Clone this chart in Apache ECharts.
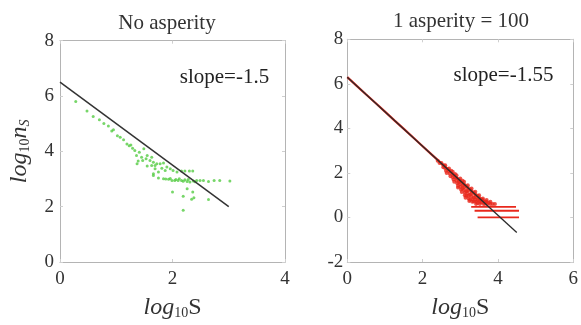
<!DOCTYPE html>
<html><head><meta charset="utf-8">
<script src="https://cdn.jsdelivr.net/npm/echarts@6/dist/echarts.min.js"></script>
<style>html,body{margin:0;padding:0;background:#fff}#c{width:581px;height:325px}</style>
</head><body><div id="c"></div>
<script>
// ---- data ----
const leftTitle = 'No asperity';
const rightTitle = '1 asperity = 100';
const leftSlopeText = 'slope=-1.5';
const rightSlopeText = 'slope=-1.55';
const leftXTicks = [0, 2, 4];
const leftYTicks = [0, 2, 4, 6, 8];
const rightXTicks = [0, 2, 4, 6];
const rightYTicks = [-2, 0, 2, 4, 6, 8];
const leftFit = [[0, 6.5], [3, 2.0]];
const rightFit = [[0, 6.3], [4.5, -0.675]];
const greenPts = [
 [0.28,5.80],[0.48,5.46],[0.59,5.26],[0.70,5.14],[0.78,5.01],[0.86,4.92],[0.92,4.74],[0.95,4.78],
 [1.02,4.56],[1.07,4.51],[1.13,4.42],[1.19,4.27],[1.23,4.20],[1.26,4.23],[1.29,4.11],[1.33,4.03],
 [1.36,3.85],[1.41,3.97],[1.45,3.79],[1.49,4.09],[1.53,3.73],[1.37,3.55],[1.39,3.65],[1.55,3.85],
 [1.60,3.67],[1.63,3.49],[1.69,3.37],[1.72,3.55],[1.66,3.19],[1.75,3.25],[1.55,3.47],[1.47,3.67],
 [1.63,3.79],[1.66,3.61],[1.69,3.49],[1.78,3.55],[1.84,3.58],[1.81,3.39],[1.87,3.31],[1.90,3.43],
 [1.96,3.37],[2.01,3.31],[2.08,3.25],[2.16,3.29],[2.22,3.29],[2.30,3.29],[2.36,3.29],
 [1.66,3.13],[1.75,3.04],[1.84,3.01],[1.93,2.99],[1.99,2.95],[2.04,2.95],[2.10,2.95],[2.16,2.95],
 [2.22,2.97],[2.26,2.91],[2.31,2.89],[2.37,2.93],[2.43,2.95],[2.49,2.95],[2.55,2.95],[2.64,2.91],
 [2.74,2.95],[2.84,2.95],[3.02,2.93],[1.88,3.00],[1.96,3.02],[2.06,2.98],[2.12,3.01],[2.19,2.92],
 [2.28,2.98],[2.40,2.90],[2.00,2.53],[2.19,2.38],[2.26,2.65],[2.36,2.53],[2.38,2.32],[2.34,2.27],
 [2.64,2.26],[2.19,1.87]
];
// red points lying on the fit (small S), drawn as a continuous trace
const redLinePts = [
 [0.00,6.30],[0.25,5.91],[0.50,5.52],[0.75,5.14],[1.00,4.75],[1.25,4.36],[1.50,3.98],[1.75,3.59],
 [2.00,3.20],[2.25,2.81],[2.50,2.43],[2.70,2.12],[2.90,1.80],[3.10,1.50],[3.30,1.18],[3.50,0.88],[3.70,0.62]
];
// scattered red points (large S)
const redPts = [
 [2.40,2.55],[2.45,2.44],[2.50,2.45],[2.55,2.35],[2.55,2.25],[2.58,2.30],
 [2.60,2.35],[2.60,2.22],[2.62,2.10],[2.64,2.00],[2.66,2.18],
 [2.70,2.20],[2.70,2.08],[2.72,1.96],[2.74,1.85],[2.76,2.10],
 [2.80,2.05],[2.80,1.92],[2.80,1.80],[2.82,1.70],[2.84,1.60],[2.86,1.95],[2.86,1.80],
 [2.90,1.90],[2.90,1.78],[2.90,1.66],[2.92,1.54],[2.94,1.42],[2.94,1.35],[2.96,1.70],[2.96,1.58],
 [3.00,1.75],[3.00,1.62],[3.00,1.50],[3.00,1.38],[3.02,1.26],[3.04,1.14],[3.06,1.65],[3.06,1.45],[3.06,1.30],
 [3.10,1.60],[3.10,1.48],[3.10,1.36],[3.10,1.24],[3.12,1.12],[3.12,1.00],[3.14,0.88],[3.16,1.40],[3.16,1.18],[3.16,0.98],
 [3.20,1.45],[3.20,1.33],[3.20,1.21],[3.20,1.09],[3.22,0.97],[3.22,0.85],[3.24,0.74],[3.26,1.25],[3.26,1.02],[3.26,0.80],
 [3.30,1.30],[3.30,1.18],[3.30,1.06],[3.30,0.94],[3.32,0.82],[3.32,0.70],[3.36,1.12],[3.36,0.90],[3.36,0.72],
 [3.40,1.15],[3.40,1.03],[3.40,0.91],[3.40,0.79],[3.42,0.70],[3.42,0.60],[3.46,0.98],[3.46,0.80],[3.46,0.65],
 [3.50,1.00],[3.50,0.88],[3.50,0.78],[3.52,0.70],[3.52,0.60],[3.56,0.82],[3.56,0.68],
 [3.60,0.85],[3.60,0.78],[3.62,0.70],[3.62,0.60],[3.66,0.72],[3.66,0.62],
 [3.70,0.78],[3.70,0.70],[3.72,0.60],[3.76,0.66],[3.80,0.70],[3.80,0.60],[3.86,0.60],[3.92,0.60]
];
const redBarY = [0.477, 0.301, 0.0];
const redBarStart = [3.29, 3.38, 3.46];
const redBarEnd = [4.48, 4.56, 4.56];

// ---- chart ----
const SERIF = "'Liberation Serif','DejaVu Serif',serif";
const AX = '#b4b4b4';
const TICK = '#cfcfcf';
const RED = '#e8281c';
const labelStyle = {color:'#333', fontFamily:SERIF, fontSize:19};
const xName = {
  name:'{i|log}{s|10}{u|S}', nameLocation:'middle', nameGap:33,
  nameTextStyle:{rich:{
    i:{fontFamily:SERIF,fontStyle:'italic',fontSize:24,color:'#333'},
    s:{fontFamily:SERIF,fontSize:14,color:'#333',padding:[11,0,0,0]},
    u:{fontFamily:SERIF,fontSize:24,color:'#333'}}}
};
function xAx(grid, min, max, ticks, main){
  const o = {type:'value', gridIndex:grid, min, max, interval: ticks[1]-ticks[0],
    position: main ? 'bottom' : 'top',
    axisLine:{show:true, onZero:false, lineStyle:{color:AX,width:1}},
    axisTick:{show:true, inside:true, length:3, lineStyle:{color:TICK}},
    splitLine:{show:false},
    axisLabel:{show:main, margin:8, ...labelStyle, formatter:v=>String(v)}};
  if (main) Object.assign(o, xName);
  return o;
}
function yAx(grid, min, max, ticks, main, name){
  const o = {type:'value', gridIndex:grid, min, max, interval: ticks[1]-ticks[0],
    position: main ? 'left' : 'right',
    axisLine:{show:true, onZero:false, lineStyle:{color:AX,width:1}},
    axisTick:{show:true, inside:true, length:3, lineStyle:{color:TICK}},
    splitLine:{show:false},
    axisLabel:{show:main, margin: grid===0 ? 6 : 4, ...labelStyle, formatter:v=>String(v)}};
  if (name) Object.assign(o, {name, nameLocation:'middle', nameGap:28, nameRotate:90,
    nameTextStyle:{rich:{
      i:{fontFamily:SERIF,fontStyle:'italic',fontSize:24,color:'#333'},
      s:{fontFamily:SERIF,fontSize:14,color:'#333',padding:[11,0,0,0]},
      t:{fontFamily:SERIF,fontStyle:'italic',fontSize:14,color:'#333',padding:[11,0,0,0]}}}});
  return o;
}
const chart = echarts.init(document.getElementById('c'), null, {renderer:'canvas'});
chart.setOption({
  animation:false,
  backgroundColor:'#fff',
  grid:[
    {left:60, top:40.7, right:296, bottom:61},
    {left:347.3, top:39.3, right:6.7, bottom:60.3}
  ],
  xAxis:[
    xAx(0, 0, 4, leftXTicks, true), xAx(0, 0, 4, leftXTicks, false),
    xAx(1, 0, 6, rightXTicks, true), xAx(1, 0, 6, rightXTicks, false)
  ],
  yAxis:[
    yAx(0, 0, 8, leftYTicks, true, '{i|log}{s|10}{i|n}{t|S}'), yAx(0, 0, 8, leftYTicks, false),
    yAx(1, -2, 8, rightYTicks, true), yAx(1, -2, 8, rightYTicks, false)
  ],
  graphic:[
    {type:'text', x:167, y:23, style:{text:leftTitle, font:'21px '+SERIF, fill:'#333', align:'center', verticalAlign:'middle'}},
    {type:'text', x:461, y:21, style:{text:rightTitle, font:'21px '+SERIF, fill:'#333', align:'center', verticalAlign:'middle'}},
    {type:'text', x:224.5, y:77, style:{text:leftSlopeText, font:'21px '+SERIF, fill:'#222', align:'center', verticalAlign:'middle'}},
    {type:'text', x:503.5, y:75, style:{text:rightSlopeText, font:'21px '+SERIF, fill:'#222', align:'center', verticalAlign:'middle'}}
  ],
  series:[
    {type:'scatter', xAxisIndex:0, yAxisIndex:0, data:greenPts, symbol:'circle', symbolSize:3,
      itemStyle:{color:'#55cc44'}, silent:true},
    {type:'line', xAxisIndex:0, yAxisIndex:0, data:leftFit, symbol:'none',
      lineStyle:{color:'#333', width:1.5}, silent:true},
    ...redBarY.map((y,i)=>({type:'line', xAxisIndex:2, yAxisIndex:2,
      data:[[redBarStart[i], y],[redBarEnd[i], y]], symbol:'none',
      lineStyle:{color:RED, width:1.8}, silent:true})),
    {type:'line', xAxisIndex:2, yAxisIndex:2, data:redLinePts, symbol:'none',
      lineStyle:{color:RED, width:2.2}, silent:true},
    {type:'scatter', xAxisIndex:2, yAxisIndex:2, data:redPts, symbol:'circle', symbolSize:4,
      itemStyle:{color:RED}, silent:true},
    {type:'line', xAxisIndex:2, yAxisIndex:2, data:rightFit, symbol:'none',
      lineStyle:{color:'#2a2a2a', width:1.3}, silent:true}
  ]
});
</script></body></html>
